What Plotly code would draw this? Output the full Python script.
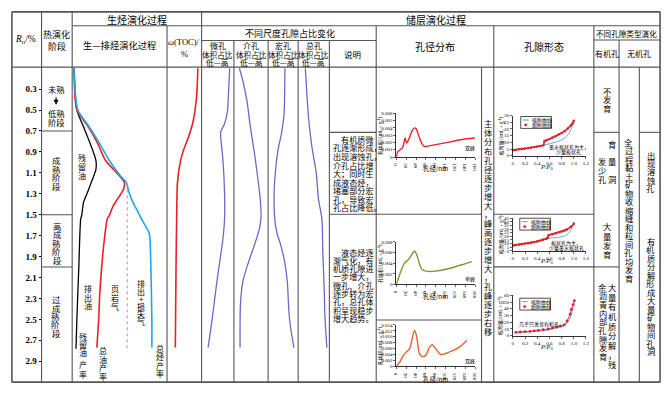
import plotly.graph_objects as go

W, H = 671, 396
def px(x): return x / W
def py(y): return 1 - y / H

CJK = "Noto Sans CJK SC"
SERIF = "Liberation Serif, Noto Sans CJK SC"

# ---------------- data ----------------
RO_TICKS = [0.3, 0.5, 0.7, 0.9, 1.1, 1.3, 1.5, 1.7, 1.9, 2.1, 2.3, 2.5, 2.7, 2.9]
RO_RANGE = [3.10, 0.09]
STAGE_BOUNDS = [0.7, 1.5, 2.0]

# hydrocarbon generation / expulsion (relative yield within column)
RES_OIL_RO = [0.10, 0.50, 0.66, 0.82, 0.98, 1.07, 1.17, 1.29, 1.38, 1.51, 1.54, 2.00, 2.49, 2.78]
RES_OIL    = [0.02, 0.05, 0.12, 0.19, 0.25, 0.25, 0.21, 0.16, 0.12, 0.10, 0.09, 0.07, 0.05, 0.04]
TOT_OIL_RO = [0.10, 0.50, 0.66, 0.82, 0.98, 1.13, 1.19, 1.26, 1.32, 1.42, 1.51, 1.54, 1.73, 2.01, 2.27, 2.49, 2.77]
TOT_OIL    = [0.02, 0.05, 0.17, 0.27, 0.35, 0.50, 0.55, 0.54, 0.50, 0.43, 0.39, 0.37, 0.34, 0.31, 0.29, 0.28, 0.26]
TOT_HC_RO  = [0.10, 0.50, 0.66, 0.82, 0.98, 1.13, 1.19, 1.29, 1.38, 1.45, 1.54, 1.67, 1.73, 2.01, 2.49, 2.77]
TOT_HC     = [0.02, 0.06, 0.18, 0.29, 0.39, 0.51, 0.57, 0.60, 0.64, 0.68, 0.73, 0.81, 0.82, 0.83, 0.84, 0.84]
GAS_RO     = [1.20, 2.78]
GAS_X      = [0.58, 0.58]

# TOC
TOC_RO = [0.10, 0.35, 0.60, 0.76, 0.88, 1.00, 1.20, 1.50, 2.00, 2.77]
TOC    = [0.89, 0.86, 0.76, 0.62, 0.48, 0.38, 0.30, 0.28, 0.26, 0.24]

# pore volume proportion (low -> high)
MICRO_RO = [0.10, 0.35, 0.51, 0.63, 0.71, 0.82, 0.98, 1.29, 1.54, 1.73, 1.95, 2.17, 2.49, 2.77]
MICRO    = [0.87, 0.83, 0.80, 0.71, 0.59, 0.61, 0.66, 0.71, 0.71, 0.66, 0.56, 0.46, 0.33, 0.20]
MESO_RO  = [0.10, 0.22, 0.41, 0.66, 0.91, 1.13, 1.35, 1.54, 1.64, 1.79, 1.98, 2.14, 2.36, 2.77]
MESO     = [0.16, 0.26, 0.38, 0.48, 0.60, 0.69, 0.77, 0.79, 0.74, 0.60, 0.40, 0.26, 0.19, 0.18]
MACRO_RO = [0.10, 0.35, 0.54, 0.73, 0.88, 1.07, 1.29, 1.54, 1.67, 1.79, 1.95, 2.14, 2.42, 2.58, 2.77]
MACRO    = [0.56, 0.55, 0.53, 0.44, 0.33, 0.25, 0.20, 0.22, 0.29, 0.42, 0.55, 0.64, 0.69, 0.75, 0.86]
TOTAL_RO = [0.10, 0.35, 0.60, 0.85, 1.10, 1.35, 1.54, 1.86, 2.17, 2.49, 2.77]
TOTAL    = [0.23, 0.28, 0.34, 0.44, 0.58, 0.65, 0.76, 0.79, 0.83, 0.86, 0.92]

# pore size distributions (nm, mL/g)
PSD1_D = [0, 3, 10, 13, 18, 21, 27, 32, 37, 40, 47, 53, 57, 60, 80, 107, 133, 159]
PSD1_V = [0, 0.0007, 0.0011, 0.0013, 0.0026, 0.0019, 0.0027, 0.0036, 0.0040, 0.0039, 0.0026, 0.0017, 0.00145, 0.00145, 0.0017, 0.00205, 0.0024, 0.0026]
PSD2_D = [0, 3, 10, 17, 23, 30, 37, 41, 47, 52, 60, 80, 107, 133, 153]
PSD2_V = [0, 0.0008, 0.0026, 0.0041, 0.0045, 0.0054, 0.0063, 0.0057, 0.0039, 0.0028, 0.0025, 0.0025, 0.0030, 0.0037, 0.0043]
PSD3_D = [0, 7, 13, 20, 27, 32, 37, 41, 47, 53, 60, 67, 73, 80, 90, 107, 127, 143]
PSD3_V = [0, 0.0014, 0.0033, 0.0048, 0.0059, 0.0092, 0.0122, 0.0103, 0.0042, 0.0033, 0.0037, 0.0064, 0.0073, 0.0059, 0.0040, 0.0048, 0.0064, 0.0087]
PSD_LABELS = ["双峰", "单峰", "双峰"]

# N2 isotherms (P/P0, mL/g)
ISO_A_ADS_P = [0.01, 0.1, 0.2, 0.3, 0.4, 0.5, 0.62, 0.73, 0.84, 0.92, 0.97, 1.0]
ISO_A_ADS_V = [4.0, 4.6, 5.2, 5.9, 6.8, 7.9, 9.1, 10.5, 12.8, 16.5, 21.4, 25]
ISO_A_DES_P = [0.01, 0.05, 0.1, 0.15, 0.2, 0.25, 0.3, 0.35, 0.4, 0.45, 0.5, 0.52, 0.55, 0.6, 0.65, 0.7, 0.75, 0.8, 0.85, 0.9, 0.95, 0.98, 1.0]
ISO_A_DES_V = [4.2, 4.5, 4.8, 5.1, 5.4, 5.8, 6.1, 6.5, 6.9, 7.3, 7.8, 10.8, 11.6, 12.5, 13.5, 14.6, 15.8, 17.0, 18.4, 20.3, 22.5, 24.2, 26]
ISO_B_ADS_P = [0.01, 0.1, 0.2, 0.3, 0.4, 0.5, 0.57, 0.65, 0.78, 0.89, 0.96, 1.0]
ISO_B_ADS_V = [7.3, 8.5, 9.8, 11, 12.7, 15, 17, 17.8, 19, 22.5, 29.6, 37]
ISO_B_DES_P = [0.01, 0.05, 0.1, 0.15, 0.2, 0.25, 0.3, 0.35, 0.4, 0.45, 0.5, 0.55, 0.57, 0.59, 0.65, 0.7, 0.75, 0.8, 0.85, 0.89, 0.95, 1.0]
ISO_B_DES_V = [7.5, 8.1, 8.7, 9.3, 10, 10.6, 11.3, 12.1, 13, 14.2, 15.5, 16.8, 17.8, 21.6, 23, 24.3, 25.6, 26.8, 28.2, 29.6, 33, 37.5]
ISO_C_ADS_P = [0.05, 0.3, 0.5, 0.68, 0.8, 0.86, 0.92, 0.96, 0.99]
ISO_C_ADS_V = [4.5, 6, 7.5, 10.5, 13, 16, 22, 32, 42]
ISO_C_DES_P = [0.05, 0.12, 0.2, 0.28, 0.35, 0.42, 0.5, 0.58, 0.65, 0.72, 0.78, 0.84, 0.89, 0.94, 0.96, 0.99, 1.01]
ISO_C_DES_V = [5, 5.5, 6, 6.5, 7.3, 8, 9, 10, 11.5, 13, 14.5, 16, 22, 32, 39, 46, 52]
ISO_NOTES = [["墨水瓶状孔为主，", "少量板状孔"], ["板状孔为主，", "少量墨水瓶状孔"], ["几乎只发育有机孔"]]

# ---------------- figure ----------------
fig = go.Figure()

def curve(xs, ys, color, xa, ya, width=1.5, dash=None, mode="lines", msize=3):
    fig.add_trace(go.Scatter(
        x=xs, y=ys, mode=mode,
        line=dict(color=color, width=width, shape="spline", smoothing=0.7, dash=dash),
        marker=dict(color=color, size=msize),
        xaxis=xa, yaxis=ya, hoverinfo="skip", showlegend=False, cliponaxis=False))

RED, BLUE, PURPLE = "#e8202a", "#1fa6e6", "#6a6ac6"
curve(RES_OIL, RES_OIL_RO, "black", "x", "y", 1.3)
curve(TOT_OIL, TOT_OIL_RO, RED, "x", "y", 1.6)
curve(TOT_HC, TOT_HC_RO, BLUE, "x", "y", 1.6)
curve(GAS_X, GAS_RO, "#f07890", "x", "y", 1.0, dash="dot")
curve(TOC, TOC_RO, RED, "x2", "y", 1.6)
curve(MICRO, MICRO_RO, PURPLE, "x3", "y", 1.3)
curve(MESO, MESO_RO, PURPLE, "x4", "y", 1.3)
curve(MACRO, MACRO_RO, PURPLE, "x5", "y", 1.3)
curve(TOTAL, TOTAL_RO, PURPLE, "x6", "y", 1.3)

curve(PSD1_D, PSD1_V, "#e8232a", "x7", "y7", 1.4)
curve(PSD2_D, PSD2_V, "#7f9436", "x8", "y8", 1.4)
curve(PSD3_D, PSD3_V, "#e8602a", "x9", "y9", 1.4)

ISO_BLUE, ISO_RED = "#3aa8e8", "#e0202a"
curve(ISO_A_ADS_P, ISO_A_ADS_V, ISO_BLUE, "x10", "y10", 0.9)
curve(ISO_A_DES_P, ISO_A_DES_V, ISO_RED, "x10", "y10", 1.6, mode="lines+markers", msize=2.6)
curve(ISO_B_ADS_P, ISO_B_ADS_V, ISO_BLUE, "x11", "y11", 0.9)
curve(ISO_B_DES_P, ISO_B_DES_V, ISO_RED, "x11", "y11", 1.6, mode="lines+markers", msize=2.6)
curve(ISO_C_ADS_P, ISO_C_ADS_V, ISO_BLUE, "x12", "y12", 0.9)
curve(ISO_C_DES_P, ISO_C_DES_V, ISO_RED, "x12", "y12", 1.0, mode="lines+markers", msize=2.8)

layout = dict(width=W, height=H, margin=dict(l=0, r=0, t=0, b=0),
              paper_bgcolor="white", plot_bgcolor="white", showlegend=False)

body_cols = [("xaxis", 69, 165), ("xaxis2", 165, 200), ("xaxis3", 200, 232.7),
             ("xaxis4", 232.7, 267.3), ("xaxis5", 267.3, 297.7), ("xaxis6", 297.7, 329.3)]
for key, a, b in body_cols:
    layout[key] = dict(domain=[px(a), px(b)], range=[0, 1], anchor="y", visible=False, fixedrange=True)
layout["yaxis"] = dict(domain=[py(385), py(66)], range=RO_RANGE, anchor="free", position=px(38),
                       side="left", tickvals=RO_TICKS, ticktext=[f"{v:.1f}" for v in RO_TICKS],
                       ticks="outside", ticklen=3, tickcolor="black", tickwidth=1,
                       showline=False, showgrid=False, zeroline=False, fixedrange=True,
                       tickfont=dict(family=SERIF, size=9, color="black", weight="bold"))

def small_axes(n, xdom, ydom, xr, yr, xt, yt, xtext, ytext):
    common = dict(showline=True, linecolor="black", linewidth=0.8, ticks="outside", ticklen=2,
                  tickwidth=0.6, tickcolor="black", showgrid=False, zeroline=False, fixedrange=True,
                  tickfont=dict(size=5, family=SERIF, color="black"))
    layout[f"xaxis{n}"] = dict(domain=[px(xdom[0]), px(xdom[1])], range=xr, anchor=f"y{n}",
                               tickvals=xt, ticktext=xtext, **common)
    layout[f"yaxis{n}"] = dict(domain=[py(ydom[0]), py(ydom[1])], range=yr, anchor=f"x{n}",
                               tickvals=yt, ticktext=ytext, **common)

PSD_X = [0, 20, 40, 60, 80, 100, 120, 140, 160]
PSD_XT = [str(v) for v in PSD_X]
def fmt3(vals): return ["0"] + [f"{v:.3f}" for v in vals[1:]]
PSD1_Y = [0, 0.001, 0.002, 0.003, 0.004, 0.005, 0.006]
PSD2_Y = [0, 0.002, 0.004, 0.006, 0.008]
PSD3_Y = [0, 0.002, 0.004, 0.006, 0.008, 0.010, 0.012, 0.014]
small_axes(7, (397, 477), (157, 112.7), [0, 160], [0, 0.006], PSD_X, PSD1_Y, PSD_XT, fmt3(PSD1_Y))
small_axes(8, (397, 477), (286, 243), [0, 160], [0, 0.008], PSD_X, PSD2_Y, PSD_XT, fmt3(PSD2_Y))
small_axes(9, (397, 477), (369, 327), [0, 160], [0, 0.014], PSD_X, PSD3_Y, PSD_XT, fmt3(PSD3_Y))
ISO_X = [0, 0.2, 0.4, 0.6, 0.8, 1.0, 1.2]
ISO_XT = ["0", "0.2", "0.4", "0.6", "0.8", "1.0", "1.2"]
ISOA_Y = [0, 5, 10, 15, 20, 25, 30]
ISOB_Y = [0, 5, 10, 15, 20, 25, 30, 35, 40, 45]
ISOC_Y = [0, 10, 20, 30, 40, 50, 60]
small_axes(10, (515, 589), (155.7, 115), [0, 1.2], [0, 30], ISO_X, ISOA_Y, ISO_XT, [str(v) for v in ISOA_Y])
small_axes(11, (515, 589), (252, 219), [0, 1.2], [0, 45], ISO_X, ISOB_Y, ISO_XT, [str(v) for v in ISOB_Y])
small_axes(12, (515, 589), (338, 297), [0, 1.2], [0, 60], ISO_X, ISOC_Y, ISO_XT, [str(v) for v in ISOC_Y])

# ---------------- table grid ----------------
GRID = "#555555"
shapes = []
def hl(y, x0, x1, w=1.1):
    shapes.append(dict(type="line", xref="paper", yref="paper", x0=px(x0), x1=px(x1), y0=py(y), y1=py(y),
                       line=dict(color=GRID, width=w)))
def vl(x, y0, y1, w=1.1):
    shapes.append(dict(type="line", xref="paper", yref="paper", x0=px(x), x1=px(x), y0=py(y0), y1=py(y1),
                       line=dict(color=GRID, width=w)))
hl(10, 8, 664, 1.6); hl(385, 8, 664, 1.6); hl(66, 8, 664, 1.3)
hl(24, 69, 664); hl(39, 200, 376.7); hl(38.5, 597, 664)
hl(132, 329.3, 376.7); hl(215, 329.3, 376.7)
hl(215, 376.7, 483.3); hl(322, 376.7, 483.3)
hl(215, 495.7, 597); hl(268.3, 495.7, 597)
hl(132, 597, 622.5); hl(268.3, 597, 622.5)
hl(132, 643, 664)
vl(8, 10, 385, 1.6); vl(664, 10, 385, 1.6)
vl(38, 10, 385); vl(69, 10, 385); vl(165, 24, 385); vl(200, 10, 385)
for x in (232.7, 267.3, 297.7, 329.3):
    vl(x, 39, 385)
vl(376.7, 24, 385); vl(483.3, 66, 385); vl(495.7, 24, 385); vl(597, 24, 385)
vl(622.5, 38.5, 385); vl(643, 66, 385)
for ro in STAGE_BOUNDS:
    shapes.append(dict(type="line", xref="paper", yref="y", x0=px(38), x1=px(69), y0=ro, y1=ro,
                       line=dict(color=GRID, width=1.1)))

# isotherm legends
LEG_BOXES = [(523, 116), (522, 219), (522, 300)]
anns = []
def txt(s, x, y, size, family=CJK, xanchor="center", color="black", angle=0):
    anns.append(dict(text=s, x=px(x), y=py(y), xref="paper", yref="paper", showarrow=False,
                     xanchor=xanchor, yanchor="middle", textangle=angle,
                     font=dict(size=size, family=family, color=color)))
for (bx, by) in LEG_BOXES:
    shapes.append(dict(type="rect", xref="paper", yref="paper", x0=px(bx), x1=px(bx + 31),
                       y0=py(by), y1=py(by + 12), line=dict(color="black", width=0.7), fillcolor="white"))
    shapes.append(dict(type="line", xref="paper", yref="paper", x0=px(bx + 2), x1=px(bx + 8),
                       y0=py(by + 3.5), y1=py(by + 3.5), line=dict(color=ISO_BLUE, width=1)))
    shapes.append(dict(type="circle", xref="paper", yref="paper", x0=px(bx + 3.8), x1=px(bx + 6.2),
                       y0=py(by + 7.3), y1=py(by + 9.7), line=dict(color=ISO_RED, width=0.5), fillcolor=ISO_RED))
    txt("吸附曲线", bx + 9.5, by + 3.5, 5, xanchor="left")
    txt("脱附曲线", bx + 9.5, by + 8.5, 5, xanchor="left")

# ---------------- texts ----------------
def vtext(s, x, y0, step, size=8, ys=None):
    for i, ch in enumerate(s):
        y = ys[i] if ys else y0 + i * step
        txt(ch, x, y, size)

# header
txt("<i>R</i><sub>o</sub>/%", 22, 38, 9.5, family=SERIF)
txt("热演化", 53.5, 33, 9); txt("阶段", 53.5, 45, 9)
txt("生烃演化过程", 134.5, 17.5, 10)
txt("生—排烃演化过程", 117, 44, 9.3)
txt("<i>ω</i>(TOC)/", 182.5, 41, 8.5, family=SERIF); txt("%", 182.5, 53, 8.5, family=SERIF)
txt("储层演化过程", 437, 17.5, 10)
txt("不同尺度孔隙占比变化", 289, 32, 9)
for name, (a, b) in zip(["微孔", "介孔", "宏孔", "总孔"], [(200, 232.7), (232.7, 267.3), (267.3, 297.7), (297.7, 329.3)]):
    c = (a + b) / 2
    txt(name, c, 44.5, 8); txt("体积占比", c, 53, 7.6); txt("低—高", c, 61.5, 7.8)
txt("说明", 353, 53, 8.5)
txt("孔径分布", 436, 45, 10)
txt("孔隙形态", 546.5, 45, 10)
txt("不同孔隙类型演化", 630.5, 31.5, 7.6)
txt("有机孔", 610, 52.5, 8); txt("无机孔", 643, 52.5, 8)

# thermal stages
txt("未熟", 52.7, 88, 8.3)
anns.append(dict(x=px(52.7), y=py(104), ax=0, ay=-9, xref="paper", yref="paper", text="",
                 showarrow=True, arrowhead=2, arrowsize=0.9, arrowwidth=1.1, arrowcolor="black"))
txt("低熟", 53.5, 112, 8.3); txt("阶段", 53.5, 122, 8.3)
vtext("成熟阶段", 52.7, 160, 8.7, 8.3)
vtext("高成熟阶段", 53.3, 226.5, 8.6, 8.3)
vtext("过成熟阶段", 52.3, 301, 8.5, 8.3)

# hydrocarbon column labels
vtext("残留油", 79, 157, 9.6, 8)
vtext("排出油", 85.3, 290, 8.8, 8)
vtext("页岩气", 112.3, 290, 9, 8)
vtext("排出+损失气", 138.7, 285, 7.7, 8)
vtext("残留油产率", 80, 0, 0, 8, ys=[339, 347, 355, 367, 377.5])
vtext("总油产率", 100, 353, 8.8, 8)
vtext("总烃产率", 158.3, 350.5, 8.7, 8)

# explanation paragraphs
P1 = ["\u3000有机质微", "孔逐渐形成，", "出现溶蚀孔，", "介孔占比增", "大；同时生", "成液态烃，", "堵塞部分宏", "孔，导致宏", "孔占比降低。"]
P2 = ["\u3000液态烃逐", "渐气化，有", "机质孔隙进", "一步增大，", "微孔、介孔", "逐步转为宏", "孔，总孔体", "积呈现稳步", "增大趋势。"]
for i, s in enumerate(P1):
    txt(s, 330.5, 139 + i * 8.7, 8.1, xanchor="left")
for i, s in enumerate(P2):
    txt(s, 330.5, 253.3 + i * 8.4, 8.1, xanchor="left")

# pore-size plot labels
for yx, yc, lab, lp in ((169, 135, PSD_LABELS[0], 148.3), (298.5, 264.5, PSD_LABELS[1], 281), (382.5, 348, PSD_LABELS[2], 364)):
    txt("孔径/nm", 437, yx, 6.4)
    txt("孔体积/(mL·g<sup>-1</sup>)", 380.5, yc, 5, angle=-90)
    txt(lab, 472, lp, 5)
vtext("主体分布孔径逐步增大，峰高逐步增大，孔峰逐步右移", 489.5, 123, 9.14, 8.2)

# isotherm labels
for yx, yc in ((167.5, 135.5), (262.5, 235.5), (349, 317.5)):
    txt("<i>P</i>/<i>P</i><sub>0</sub>", 549, yx, 6.3, family=SERIF)
    txt("吸附量/(mL·g<sup>-1</sup>)", 502.5, yc, 5, angle=-90)
txt(ISO_NOTES[0][0], 572, 147.3, 5); txt(ISO_NOTES[0][1], 571, 152, 5)
txt(ISO_NOTES[1][0], 569, 244, 5); txt(ISO_NOTES[1][1], 569, 249, 5)
txt(ISO_NOTES[2][0], 541, 326, 5)

# pore type columns
vtext("不发育", 610, 90, 8.7, 8.3)
vtext("发少孔", 605.5, 161.5, 8.7, 8.3)
vtext("育量洞", 615.5, 0, 0, 8.3, ys=[144, 161.5, 179])
vtext("大量发育", 610, 227, 9.5, 8.3)
vtext("大量有机质分解，残", 615.5, 288.5, 9.8, 8.3)
vtext("余沥青内部孔隙发育", 606, 288.5, 8.75, 8.3)
vtext("全过程黏土矿物收缩缝和粒间孔均发育", 632.5, 141.7, 8.6, 8.3)
vtext("出现溶蚀孔", 654.5, 155, 8.3, 8.3)
vtext("有机质分解形成大量矿物间孔洞", 654.5, 241.7, 8.6, 8.3)

layout["shapes"] = shapes
layout["annotations"] = anns
fig.update_layout(**layout)
fig.write_html("out.html", config={"displayModeBar": False, "staticPlot": True},
               post_script="document.body.style.margin='0';document.body.style.padding='0';document.body.style.overflow='hidden';")
